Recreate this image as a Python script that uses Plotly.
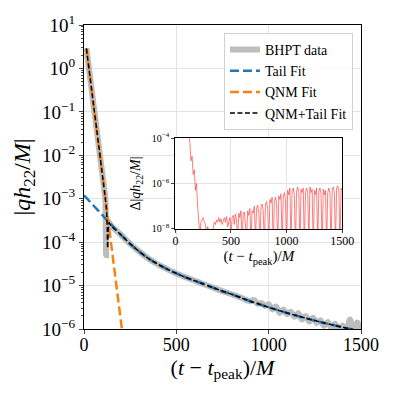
import numpy as np
import plotly.graph_objects as go

# ---- data (log10 of |q h22 / M|) ----
t_data = [13, 30, 50, 70, 90, 105, 112, 116, 118, 119.5, 121, 124, 130, 140, 150,
          200, 250, 300, 350, 400, 450, 500, 550, 600, 650, 700, 750, 800, 850, 900,
          920, 940, 960, 980, 1000, 1020, 1040, 1060, 1080, 1100, 1120, 1140, 1160,
          1180, 1200, 1220, 1240, 1260, 1280, 1300, 1320, 1340, 1360, 1380, 1400,
          1420, 1440, 1460, 1480, 1500]
log_data = [0.46, -0.11, -0.78, -1.45, -2.12, -2.62, -2.86, -3.05, -3.6, -4.3, -3.8, -3.5, -3.52, -3.58, -3.64,
            -3.83, -4.04, -4.22, -4.38, -4.51, -4.62, -4.72, -4.81, -4.89, -4.97, -5.05, -5.13, -5.20, -5.28, -5.36,
            -5.33, -5.42, -5.40, -5.47, -5.43, -5.55, -5.48, -5.63, -5.55, -5.66, -5.60, -5.72, -5.63,
            -5.78, -5.70, -5.83, -5.74, -5.86, -5.80, -5.93, -5.84, -5.97, -5.88, -6.03, -5.92,
            -6.05, -5.78, -6.06, -5.85, -6.04]

t_tail = [0, 50, 100, 150, 200, 250, 300, 350, 400, 450, 500, 550, 600, 650, 700, 750,
          800, 850, 900, 950, 1000, 1100, 1200, 1300, 1400, 1500]
log_tail = [-2.92, -3.15, -3.38, -3.61, -3.83, -4.04, -4.22, -4.38, -4.51, -4.62, -4.72, -4.81, -4.89,
            -4.97, -5.05, -5.13, -5.20, -5.28, -5.36, -5.43, -5.50, -5.63, -5.75, -5.86, -5.96, -6.05]

t_qnm = [13, 50, 100, 150, 206, 230]
log_qnm = [0.46, -0.78, -2.46, -4.14, -6.02, -6.83]

t_sum = [13, 50, 100, 115, 122, 126, 128, 131, 136, 145, 150,
         200, 250, 300, 350, 400, 450, 500, 550, 600, 650, 700, 750,
         800, 850, 900, 950, 1000, 1100, 1200, 1300, 1400, 1500]
log_sum = [0.46, -0.78, -2.46, -2.98, -3.25, -3.7, -4.14, -3.75, -3.55, -3.62, -3.64,
           -3.83, -4.04, -4.22, -4.38, -4.51, -4.62, -4.72, -4.81, -4.89, -4.97, -5.05, -5.13,
           -5.20, -5.28, -5.36, -5.43, -5.50, -5.63, -5.75, -5.86, -5.96, -6.05]

# inset residual, every 10 M from t = 120
t_res = np.arange(120, 1510, 10)
log_res = [-3.8, -4.2, -5.0, -4.8, -5.6, -5.4, -6.3, -6.0, -7.0, -7.6, -8.3, -7.7, -7.6, -7.5, -7.7, -7.8,
           -8.2, -7.9, -8.1, -8.3, -8.6, -8.2, -7.9, -7.7, -7.8, -7.6, -7.7, -7.5, -7.7, -7.55, -7.8,
           -7.6, -7.5, -7.7, -7.45, -7.9, -7.6, -7.5, -8.3, -7.5, -7.4, -7.8, -7.35, -7.6, -8.4, -7.3,
           -7.5, -7.2, -8.5, -7.35, -7.25, -7.6, -8.4, -7.2, -7.4, -7.1, -8.6, -7.2, -7.3, -7.0, -8.5,
           -7.1, -6.95, -7.3, -8.6, -7.0, -6.9, -7.2, -8.7, -6.9, -6.8, -7.1, -8.6, -6.7, -6.85, -6.6,
           -8.8, -6.8, -6.6, -6.9, -8.7, -6.55, -6.7, -6.45, -8.8, -6.6, -6.4, -6.7, -8.9, -6.3, -6.5,
           -6.2, -8.7, -6.35, -6.2, -6.5, -8.9, -6.3, -6.15, -6.4, -8.8, -6.25, -6.4, -6.2, -8.9, -6.4,
           -6.2, -6.35, -8.7, -6.15, -6.4, -6.25, -8.9, -6.3, -6.5, -6.2, -8.8, -6.35, -6.2, -6.45, -8.9,
           -6.25, -6.5, -6.3, -8.8, -6.4, -6.2, -6.45, -8.9, -6.3, -6.15, -6.4, -8.8, -6.2, -6.1, -6.3,
           -8.9, -6.2, -6.3]

main_decades = list(range(-6, 2))
inset_decades = [-8, -6, -4]

FONT = "Times New Roman, Liberation Serif, DejaVu Serif, serif"


def p10(v):
    return 10.0 ** np.asarray(v, dtype=float)


def lab(k):
    return "10<sup>" + str(k).replace("-", "\u2212") + "</sup>"


fig = go.Figure()
fig.add_trace(go.Scatter(x=t_data, y=p10(log_data), mode="lines", name="BHPT data",
                         line=dict(color="#bdbdbd", width=6, shape="spline", smoothing=0.6)))
fig.add_trace(go.Scatter(x=t_tail, y=p10(log_tail), mode="lines", name="Tail Fit",
                         line=dict(color="#1f77b4", width=2.5, dash="9px,4px", shape="spline")))
fig.add_trace(go.Scatter(x=t_qnm, y=p10(log_qnm), mode="lines", name="QNM Fit",
                         line=dict(color="#ff7f0e", width=2.5, dash="9px,4px")))
fig.add_trace(go.Scatter(x=t_sum, y=p10(log_sum), mode="lines", name="QNM+Tail Fit",
                         line=dict(color="black", width=1.5, dash="5px,2.5px",
                                   shape="spline", smoothing=0.5)))
fig.add_trace(go.Scatter(x=t_res, y=p10(log_res), mode="lines", showlegend=False,
                         line=dict(color="rgba(255,70,70,0.7)", width=1),
                         xaxis="x2", yaxis="y2"))

minor_main = [m * 10.0 ** k for k in range(-6, 1) for m in range(2, 10)]

# page body adds an 8 px offset, so the figure is a little smaller than the window
fig.update_layout(
    width=389, height=389,
    margin=dict(l=76, r=36, t=17, b=68),
    paper_bgcolor="white", plot_bgcolor="white",
    font=dict(family=FONT, color="black"),
    showlegend=True,
    legend=dict(x=0.971, y=0.974, xanchor="right", yanchor="top",
                bgcolor="rgba(255,255,255,0.85)", bordercolor="#d0d0d0", borderwidth=1,
                font=dict(size=14, family=FONT), itemwidth=30, tracegroupgap=0),
    xaxis=dict(range=[0, 1500], tickvals=[0, 500, 1000, 1500], ticks="outside", ticklen=4,
               automargin=False, ticklabelstandoff=-5,
               showline=True, linecolor="black", linewidth=1.2, mirror=True,
               showgrid=True, gridcolor="#e3e3e3", gridwidth=0.8, zeroline=False,
               tickfont=dict(size=18, family=FONT),
               title=dict(text="(<i>t</i> \u2212 <i>t</i><sub>peak</sub>)/<i>M</i>",
                          font=dict(size=22, family=FONT), standoff=0)),
    yaxis=dict(type="log", range=[-6, 1], tickvals=[10.0 ** k for k in main_decades],
               ticktext=[lab(k) for k in main_decades], ticks="outside", ticklen=4,
               automargin=False,
               minor=dict(tickvals=minor_main, ticks="outside", ticklen=2, showgrid=False),
               showline=True, linecolor="black", linewidth=1.2, mirror=True,
               showgrid=True, gridcolor="#e3e3e3", gridwidth=0.8, zeroline=False,
               tickfont=dict(size=19, family=FONT),
               title=dict(text="|<i>qh</i><sub>22</sub>/<i>M</i>|",
                          font=dict(size=24, family=FONT), standoff=4)),
    xaxis2=dict(domain=[0.33, 0.932], anchor="y2", range=[0, 1500],
                tickvals=[0, 500, 1000, 1500], ticks="outside", ticklen=3, automargin=False,
                ticklabelstandoff=-2,
                showline=True, linecolor="black", linewidth=1.2, mirror=True,
                showgrid=True, gridcolor="#e3e3e3", gridwidth=0.8, zeroline=False,
                tickfont=dict(size=12, family=FONT),
                title=dict(text="(<i>t</i> \u2212 <i>t</i><sub>peak</sub>)/<i>M</i>",
                           font=dict(size=15, family=FONT), standoff=0)),
    yaxis2=dict(domain=[0.329, 0.628], anchor="x2", type="log", range=[-8, -4],
                tickvals=[10.0 ** k for k in inset_decades],
                ticktext=[lab(k) for k in inset_decades], ticks="outside", ticklen=3,
                automargin=False,
                showline=True, linecolor="black", linewidth=1.2, mirror=True,
                showgrid=True, gridcolor="#e3e3e3", gridwidth=0.8, zeroline=False,
                tickfont=dict(size=10, family=FONT),
                title=dict(text="\u0394|<i>qh</i><sub>22</sub>/<i>M</i>|",
                           font=dict(size=14, family=FONT), standoff=7)),
)

fig.write_html("out.html")
